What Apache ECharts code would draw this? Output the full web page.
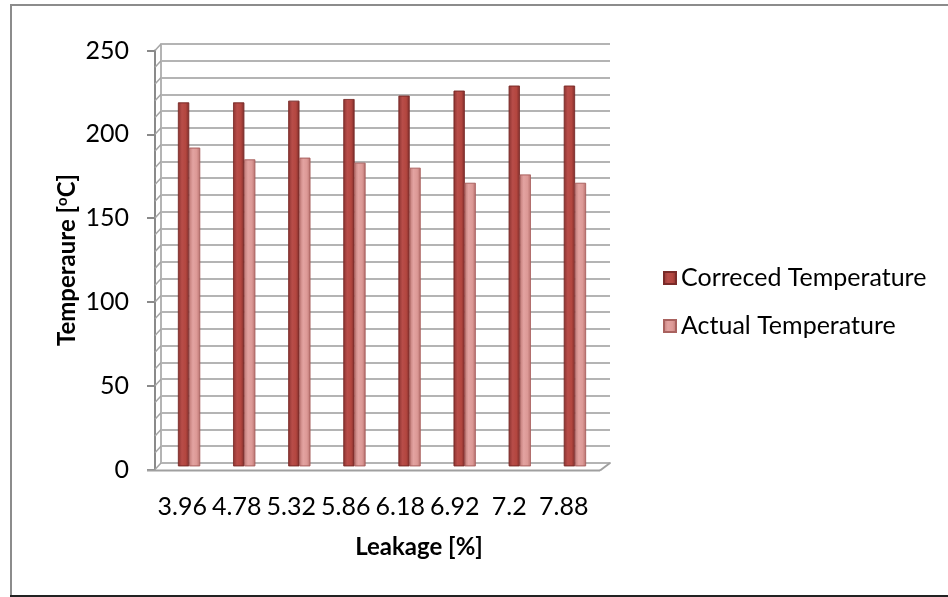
<!DOCTYPE html>
<html>
<head>
<meta charset="utf-8">
<style>
  html, body { margin: 0; padding: 0; background: #fff; }
  #chart { width: 948px; height: 597px; }
</style>
<script src="https://cdn.jsdelivr.net/npm/echarts@6/dist/echarts.min.js"></script>
</head>
<body>
<div id="chart"></div>
<script>
// Leakage levels [%] on the category axis
const categories = ['3.96', '4.78', '5.32', '5.86', '6.18', '6.92', '7.2', '7.88'];
// Temperatures [°C]
const correctedTemp = [217, 217, 218, 219, 221, 224, 227, 227];
const actualTemp = [190, 183, 184, 181, 178, 169, 174, 169];
// Value axis ticks
const yTicks = [0, 50, 100, 150, 200, 250];
const seriesNames = ['Correced Temperature', 'Actual Temperature'];

const FONT = 'Lato';
const yMin = yTicks[0], yMax = yTicks[yTicks.length - 1];
const yStep = yTicks[1] - yTicks[0];

// Front frame (labels), back wall (gridlines) and the plane the bars stand in
const FRONT = { left: 155, top: 50.5, width: 436, height: 419 };
const BACK = { left: 161, top: 44, width: 449, height: 419 };
const BARS = { left: 161.5, top: 47.2, width: 441, height: 419 };

const GRID_COLOR = '#B4B4B4';
const AXIS_COLOR = '#8A8A8A';

function barGradient(stops) {
  return new echarts.graphic.LinearGradient(0, 0, 1, 0,
    stops.map(([offset, color]) => ({ offset, color })));
}

const option = {
  animation: false,
  backgroundColor: '#fff',
  textStyle: { fontFamily: FONT, color: '#000' },
  grid: [
    Object.assign({ containLabel: false }, FRONT),
    Object.assign({ containLabel: false }, BACK),
    Object.assign({ containLabel: false }, BARS)
  ],
  legend: {
    orient: 'vertical',
    left: 663,
    top: 264,
    padding: 0,
    itemWidth: 12,
    itemHeight: 12,
    itemGap: 20,
    icon: 'rect',
    textStyle: { fontFamily: FONT, fontSize: 25, color: '#000', lineHeight: 28 },
    data: seriesNames
  },
  xAxis: [
    {
      gridIndex: 0, type: 'category', data: categories,
      axisLine: { show: false }, axisTick: { show: false },
      axisLabel: { fontFamily: FONT, fontSize: 25, color: '#000', margin: 25, interval: 0 },
      name: 'Leakage [%]', nameLocation: 'middle', nameGap: 66,
      nameTextStyle: { fontFamily: FONT, fontSize: 24, fontWeight: 'bold', color: '#000', padding: [0, 0, 0, 92] }
    },
    {
      gridIndex: 1, type: 'category', data: categories,
      axisLine: { show: true, lineStyle: { color: GRID_COLOR, width: 2 } },
      axisTick: { show: false }, axisLabel: { show: false }
    },
    {
      gridIndex: 2, type: 'category', data: categories, show: false
    }
  ],
  yAxis: [
    {
      gridIndex: 0, type: 'value', min: yMin, max: yMax, interval: yStep,
      axisLine: { show: true, lineStyle: { color: AXIS_COLOR, width: 2 } },
      axisTick: { show: true, length: 8, lineStyle: { color: AXIS_COLOR, width: 2 } },
      axisLabel: { fontFamily: FONT, fontSize: 25, color: '#000', margin: 26 },
      splitLine: { show: false },
      name: 'Temperaure [{s|o}C]', nameLocation: 'middle', nameGap: 76,
      nameTextStyle: {
        fontFamily: FONT, fontSize: 24, fontWeight: 'bold', color: '#000',
        rich: { s: { fontFamily: FONT, fontSize: 15, fontWeight: 'bold', color: '#000', verticalAlign: 'top', padding: [0, 0, 9, 0] } }
      }
    },
    {
      gridIndex: 1, type: 'value', min: yMin, max: yMax, interval: 10,
      axisLine: { show: true, lineStyle: { color: GRID_COLOR, width: 2 } },
      axisTick: { show: false }, axisLabel: { show: false },
      splitLine: { show: true, lineStyle: { color: GRID_COLOR, width: 2 } }
    },
    {
      gridIndex: 2, type: 'value', min: yMin, max: yMax, show: false,
      splitLine: { show: false }
    }
  ],
  series: [
    {
      name: seriesNames[0], type: 'bar', xAxisIndex: 2, yAxisIndex: 2,
      data: correctedTemp, barWidth: 11, barGap: '0%', z: 3,
      itemStyle: {
        color: barGradient([[0, '#8C3331'], [0.35, '#B84D49'], [0.7, '#B3463F'], [1, '#7E2D2B']]),
        borderColor: '#7A2B29', borderWidth: 0.6
      }
    },
    {
      name: seriesNames[1], type: 'bar', xAxisIndex: 2, yAxisIndex: 2,
      data: actualTemp, barWidth: 11, barGap: '0%', z: 3,
      itemStyle: {
        color: barGradient([[0, '#C07A77'], [0.35, '#E3A3A1'], [0.7, '#DC9996'], [1, '#B8716E']]),
        borderColor: '#A9625F', borderWidth: 0.6
      }
    }
  ]
};

// Legend swatch colours (flat)
option.color = ['#B0413E', '#D99694'];

const chart = echarts.init(document.getElementById('chart'), null, { renderer: 'canvas' });
chart.setOption(option);

// Side wall, floor edges and outer frame, positioned from the axes
function yFront(v) { return chart.convertToPixel({ yAxisIndex: 0 }, v); }
function yBack(v) { return chart.convertToPixel({ yAxisIndex: 1 }, v); }

const deco = [];
const wallStyle = { stroke: '#A5A5A5', lineWidth: 1.5 };
for (let v = yMin; v <= yMax; v += 10) {
  deco.push({
    type: 'line', silent: true, z: 1,
    shape: { x1: FRONT.left, y1: yFront(v), x2: BACK.left, y2: yBack(v) },
    style: wallStyle
  });
}
const floorY = yFront(yMin) + 1;
const floorRight = BACK.left + BACK.width - 10;
deco.push({
  type: 'line', silent: true, z: 5,
  shape: { x1: FRONT.left - 8, y1: floorY, x2: floorRight, y2: floorY },
  style: { stroke: '#A0A0A0', lineWidth: 2 }
});
deco.push({
  type: 'line', silent: true, z: 5,
  shape: { x1: floorRight, y1: floorY, x2: BACK.left + BACK.width, y2: yBack(yMin) },
  style: { stroke: '#A0A0A0', lineWidth: 2 }
});
// chart border
deco.push({
  type: 'rect', silent: true, z: 0,
  shape: { x: 11, y: 5, width: 960, height: 591 },
  style: { fill: null, stroke: '#8C8C8C', lineWidth: 2 }
});
deco.push({
  type: 'line', silent: true, z: 0,
  shape: { x1: 10, y1: 596, x2: 948, y2: 596 },
  style: { stroke: '#222', lineWidth: 2 }
});
chart.setOption({ graphic: deco });
</script>
</body>
</html>
